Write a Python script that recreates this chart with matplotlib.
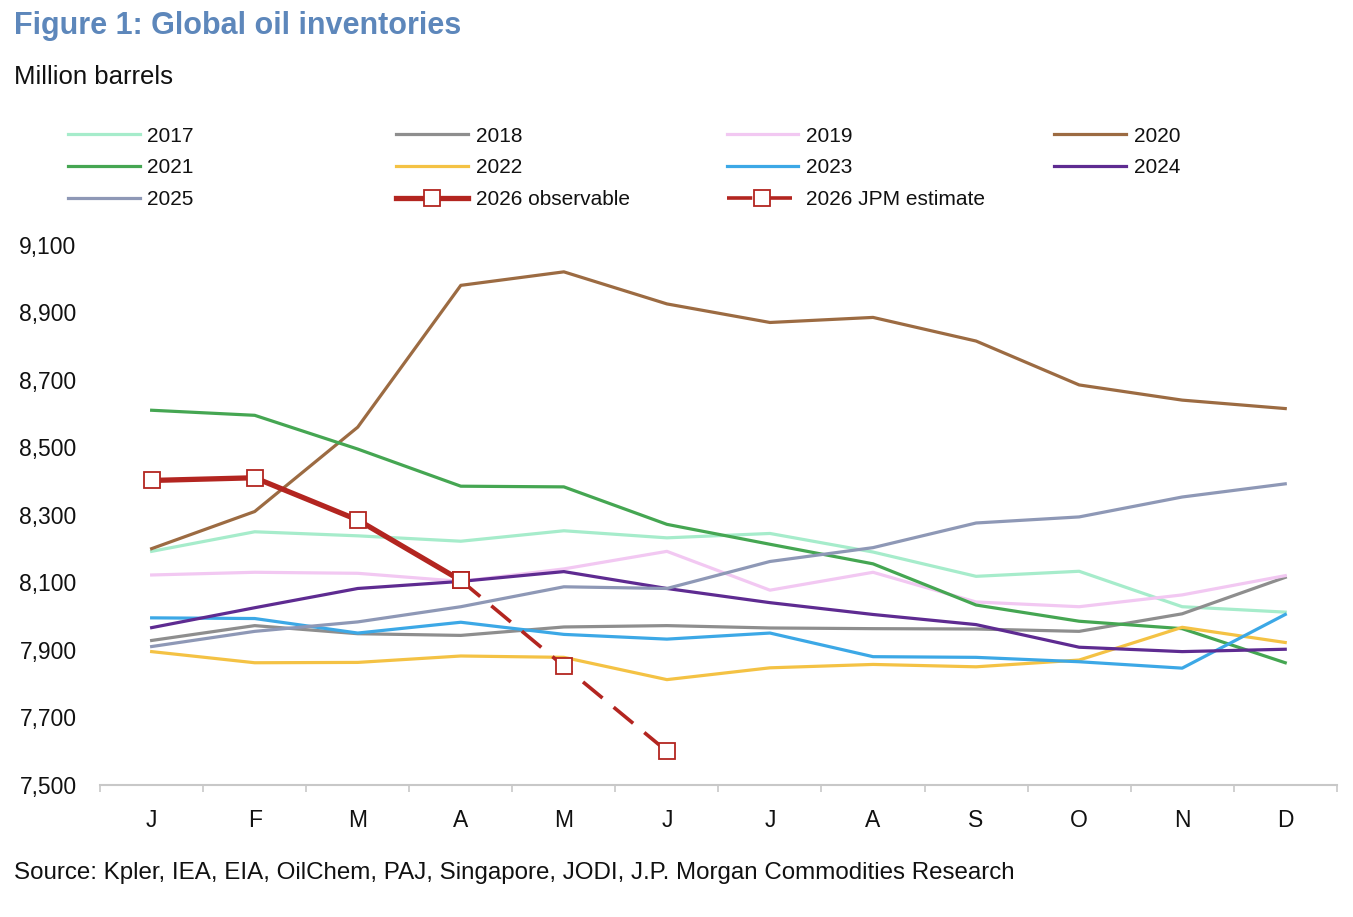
import numpy as np
import matplotlib.pyplot as plt
from matplotlib.ticker import FuncFormatter

plt.rcParams['font.family'] = ['Liberation Sans Narrow', 'Liberation Sans', 'DejaVu Sans']

months = ['J', 'F', 'M', 'A', 'M', 'J', 'J', 'A', 'S', 'O', 'N', 'D']

y2017 = [8192, 8250, 8238, 8222, 8253, 8232, 8245, 8190, 8118, 8133, 8028, 8012]
y2018 = [7928, 7972, 7948, 7943, 7968, 7972, 7965, 7963, 7962, 7955, 8007, 8115]
y2019 = [8122, 8130, 8127, 8103, 8140, 8192, 8077, 8130, 8042, 8028, 8063, 8120]
y2020 = [8200, 8310, 8560, 8980, 9020, 8925, 8870, 8885, 8815, 8685, 8640, 8615]
y2021 = [8610, 8595, 8495, 8385, 8383, 8272, 8213, 8155, 8033, 7985, 7963, 7862]
y2022 = [7895, 7862, 7863, 7882, 7878, 7812, 7847, 7857, 7850, 7870, 7967, 7922]
y2023 = [7995, 7993, 7950, 7982, 7946, 7932, 7950, 7880, 7878, 7865, 7846, 8005]
y2024 = [7966, 8025, 8082, 8103, 8132, 8082, 8040, 8005, 7975, 7908, 7895, 7902]
y2025 = [7910, 7955, 7983, 8028, 8087, 8082, 8162, 8203, 8276, 8294, 8353, 8392]
y2026_obs = [8402, 8410, 8285, 8106]
y2026_est = [8106, 7852, 7600]

colors = {
    '2017': '#a6eccb',
    '2018': '#8e8e8e',
    '2019': '#f2c8f2',
    '2020': '#9c6b42',
    '2021': '#45a652',
    '2022': '#f4c244',
    '2023': '#3ca8e6',
    '2024': '#5e2b91',
    '2025': '#8e98b6',
    '2026': '#b32520',
}

fig = plt.figure(figsize=(13.53, 9.17), dpi=100)
ax = fig.add_axes([0.074, 0.144, 0.914, 0.589])

x = np.arange(12)
lw = 2.3
series = [('2017', y2017), ('2018', y2018), ('2019', y2019), ('2020', y2020),
          ('2021', y2021), ('2022', y2022), ('2023', y2023), ('2024', y2024),
          ('2025', y2025)]
handles = {}
for name, vals in series:
    h, = ax.plot(x, vals, color=colors[name], lw=lw, label=name)
    handles[name] = h

mk = dict(marker='s', markersize=11, markerfacecolor='white',
          markeredgecolor=colors['2026'], markeredgewidth=1.3)
h_obs, = ax.plot(x[:4], y2026_obs, color=colors['2026'], lw=3.8, zorder=5, **mk)
h_est, = ax.plot(x[3:6], y2026_est, color=colors['2026'], lw=2.6, zorder=4,
                 linestyle=(0, (7, 4)), **mk)
ax.plot(x[3], y2026_obs[3], zorder=6, **mk)
handles['2026 observable'] = h_obs
handles['2026 JPM estimate'] = h_est

ax.set_xlim(-0.5, 11.5)
ax.set_ylim(7500, 9100)
ax.set_yticks(np.arange(7500, 9101, 200))
ax.yaxis.set_major_formatter(FuncFormatter(lambda v, p: f'{int(v):,}'))
ax.set_xticks(x)
ax.set_xticklabels(months)
ax.set_xticks(np.arange(-0.5, 12, 1), minor=True)

for s in ['top', 'right', 'left']:
    ax.spines[s].set_visible(False)
ax.spines['bottom'].set_color('#c8c8c8')
ax.spines['bottom'].set_linewidth(1.5)
ax.tick_params(axis='y', length=0, pad=17, labelsize=16.5, colors='#111111')
ax.tick_params(axis='x', which='major', length=0, pad=17, labelsize=16.5, colors='#111111')
ax.tick_params(axis='x', which='minor', length=5, width=1.2, color='#c8c8c8')

# legend in four fixed columns, filled row by row like the original
cols = [['2017', '2021', '2025'],
        ['2018', '2022', '2026 observable'],
        ['2019', '2023', '2026 JPM estimate'],
        ['2020', '2024']]
col_x = [0.050, 0.293, 0.537, 0.779]
for cx, names in zip(col_x, cols):
    leg = fig.legend([handles[n] for n in names], names, loc='upper left',
                     bbox_to_anchor=(cx, 0.862), frameon=False, fontsize=15,
                     handlelength=3.45, handletextpad=0.38, labelspacing=0.62,
                     borderpad=0, borderaxespad=0, numpoints=1)
    for t in leg.get_texts():
        t.set_color('#111111')

fig.text(0.010, 0.988, 'Figure 1: Global oil inventories', fontsize=22,
         fontweight='bold', color='#5d87bb', va='top', ha='left')
fig.text(0.010, 0.903, 'Million barrels', fontsize=18.5, color='#111111',
         va='bottom', ha='left')
fig.text(0.010, 0.036, 'Source: Kpler, IEA, EIA, OilChem, PAJ, Singapore, JODI, '
         'J.P. Morgan Commodities Research', fontsize=17.4, color='#111111',
         va='bottom', ha='left')

fig.savefig('out.png', dpi=100)
